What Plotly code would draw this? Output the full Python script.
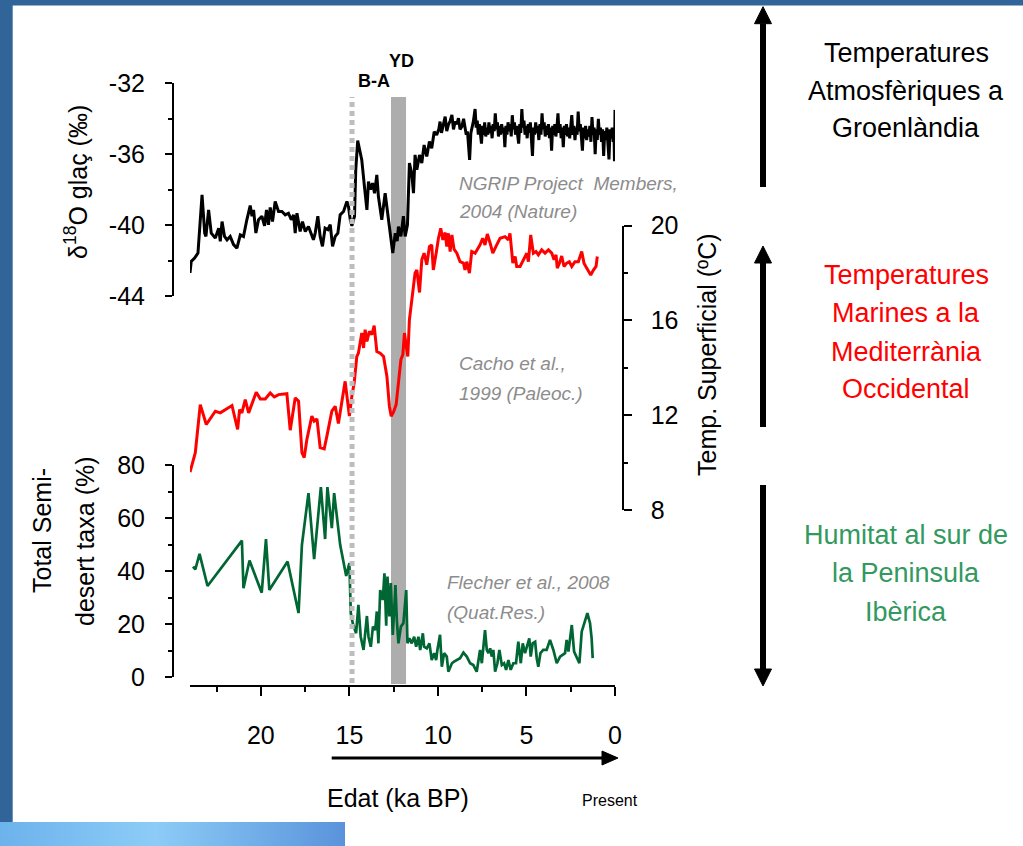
import base64
import plotly.graph_objects as go

# ---------------- data ----------------
# NGRIP d18O (permil) vs age (ka BP)
ngrip_age = [24.00, 23.93, 23.74, 23.55, 23.32, 23.17, 23.10, 22.95, 22.80, 22.57, 22.38, 22.29, 22.19, 22.05,
             21.91, 21.73, 21.54, 21.35, 21.16, 20.98, 20.79, 20.60, 20.50, 20.41, 20.28, 20.13, 19.94, 19.79,
             19.68, 19.57, 19.47, 19.34, 19.19, 19.00, 18.81, 18.62, 18.44, 18.28, 18.15, 18.06, 17.96, 17.78,
             17.65, 17.49, 17.31, 17.16, 17.03, 16.93, 16.78, 16.65, 16.52, 16.37, 16.21, 16.08, 15.95, 15.80,
             15.65, 15.52, 15.33, 15.14, 15.05, 14.95, 14.86, 14.71, 14.64, 14.53, 14.45, 14.30, 14.15, 14.01,
             13.92, 13.81, 13.69, 13.58, 13.45, 13.36, 13.17, 12.98, 12.79, 12.64, 12.55, 12.41, 12.30, 12.23,
             12.09, 11.95, 11.85, 11.72, 11.61, 11.48, 11.38, 11.29, 11.19, 11.04, 10.91, 10.78, 10.63, 10.48,
             10.35, 10.21, 10.07, 9.95, 9.88, 9.80, 9.72, 9.65, 9.59, 9.50, 9.41, 9.30, 9.21, 9.12, 9.03, 8.93,
             8.84, 8.75, 8.65, 8.55, 8.46, 8.40, 8.33, 8.21, 8.14, 8.00,
             7.90, 7.84, 7.78, 7.72, 7.66, 7.60, 7.54, 7.48, 7.42, 7.36, 7.30, 7.24, 7.18, 7.12, 7.06, 7.00,
             6.94, 6.88, 6.82, 6.76, 6.70, 6.64, 6.58, 6.52, 6.46, 6.40, 6.34, 6.28, 6.22, 6.16, 6.10, 6.04,
             5.98, 5.92, 5.86, 5.80, 5.74, 5.68, 5.62, 5.56, 5.50, 5.44, 5.38, 5.32, 5.26, 5.20, 5.14, 5.08,
             5.02, 4.96, 4.90, 4.84, 4.78, 4.72, 4.66, 4.60, 4.54, 4.48, 4.42, 4.36, 4.30, 4.24, 4.18, 4.12,
             4.06, 4.00, 3.94, 3.88, 3.82, 3.76, 3.70, 3.64, 3.58, 3.52, 3.46, 3.40, 3.34, 3.28, 3.22, 3.16,
             3.10, 3.04, 2.98, 2.92, 2.86, 2.80, 2.74, 2.68, 2.62, 2.56, 2.50, 2.44, 2.38, 2.32, 2.26, 2.20,
             2.14, 2.08, 2.02, 1.96, 1.90, 1.84, 1.78, 1.72, 1.66, 1.60, 1.54, 1.48, 1.42, 1.36, 1.30, 1.24,
             1.18, 1.12, 1.06, 1.00, 0.94, 0.88, 0.82, 0.76, 0.70, 0.64, 0.58, 0.52, 0.46, 0.40, 0.34, 0.28,
             0.22, 0.16, 0.10, 0.06, 0.03, 0.00]
ngrip_d18o = [-42.70, -42.05, -41.86, -41.58, -38.30, -40.45, -40.64, -39.14, -40.45, -40.73, -40.17, -40.92,
              -39.80, -40.64, -40.83, -40.64, -41.10, -41.30, -40.55, -40.64, -39.70, -38.90, -39.50, -39.14,
              -40.45, -39.70, -39.50, -40.04, -39.14, -39.98, -39.00, -39.80, -38.67, -39.23, -39.23, -39.42,
              -39.33, -39.70, -39.42, -40.45, -39.33, -40.36, -39.80, -40.36, -40.08, -40.45, -40.83, -40.45,
              -39.50, -40.64, -41.20, -40.17, -40.26, -39.98, -41.20, -40.64, -40.45, -39.42, -39.23, -38.67,
              -38.95, -39.70, -40.04, -39.50, -36.88, -35.23, -35.57, -36.32, -37.82, -39.14, -37.54, -38.00,
              -37.63, -38.20, -37.17, -38.39, -39.70, -38.20, -39.70, -41.01, -41.58, -40.45, -40.90, -40.08,
              -40.64, -39.50, -40.64, -39.98, -36.50, -37.07, -38.20, -36.04, -36.88, -36.04, -36.50, -35.48,
              -36.13, -35.29, -35.66, -34.73, -34.91, -34.60, -34.16, -34.80, -34.44, -34.20, -33.88, -34.70,
              -34.35, -34.10, -33.79, -34.60, -34.16, -34.30, -33.97, -34.60, -34.44, -34.00, -34.44, -34.90,
              -34.73, -36.32, -34.82, -34.16,
              -33.45, -34.50, -34.10, -34.90, -34.30, -34.80, -35.40, -34.40, -34.90, -34.20, -35.00, -34.50,
              -34.90, -34.20, -34.80, -34.40, -35.10, -34.30, -34.70, -33.70, -34.60, -34.20, -35.00, -34.40,
              -34.90, -34.30, -34.80, -34.50, -35.60, -34.40, -34.90, -34.20, -34.70, -34.30, -35.00, -33.80,
              -34.60, -34.20, -34.90, -34.40, -35.00, -35.40, -34.30, -34.80, -33.45, -34.50, -34.10, -34.90,
              -34.40, -35.10, -34.30, -34.80, -34.20, -35.00, -36.10, -34.50, -34.90, -34.20, -34.80, -34.40,
              -35.20, -34.30, -34.90, -33.70, -34.60, -34.20, -35.00, -34.40, -34.90, -34.30, -35.10, -34.50,
              -35.80, -34.40, -34.90, -34.30, -35.00, -34.50, -33.70, -34.80, -34.30, -35.10, -34.50, -35.60,
              -34.40, -34.90, -34.30, -35.00, -34.50, -35.10, -34.40, -33.80, -34.90, -34.40, -35.20, -34.50,
              -34.90, -33.60, -34.70, -34.30, -35.00, -35.80, -34.50, -35.10, -34.40, -35.20, -34.60, -35.00,
              -34.40, -35.30, -33.90, -34.90, -34.50, -36.00, -34.60, -35.20, -34.00, -34.90, -34.50, -35.30,
              -34.60, -36.10, -34.70, -35.20, -34.50, -35.40, -36.30, -34.60, -35.10, -34.50, -35.30, -34.60,
              -36.40, -33.50]

# Cacho et al. 1999 SST (degC)
sst_age = [24.00, 23.70, 23.42, 23.08, 22.57, 22.29, 21.63, 21.31, 21.20, 21.07, 20.88, 20.69, 20.26, 20.03,
           19.75, 19.47, 19.24, 19.00, 18.53, 18.34, 18.06, 17.87, 17.68, 17.55, 17.40, 17.12, 16.99, 16.83,
           16.65, 16.42, 16.27, 15.99, 15.80, 15.62, 15.24, 15.00, 14.86, 14.73, 14.58, 14.49, 14.30, 14.20,
           14.11, 14.01, 13.87, 13.73, 13.60, 13.45, 13.26, 13.07, 12.88, 12.74, 12.64, 12.51, 12.36, 12.23,
           12.09, 11.98, 11.89, 11.79, 11.70, 11.61, 11.48, 11.29, 11.19, 11.04, 10.91, 10.78, 10.63, 10.48,
           10.35, 10.26, 10.10, 9.97, 9.84, 9.72, 9.59, 9.50, 9.41, 9.31, 9.21, 9.09, 8.93, 8.75, 8.56, 8.47,
           8.37, 8.22, 8.09, 7.90, 7.62, 7.47, 7.34, 7.21, 7.05, 6.90, 6.68, 6.49, 6.21, 6.02, 5.93, 5.77,
           5.64, 5.55, 5.36, 5.17, 4.98, 4.89, 4.76, 4.61, 4.46, 4.33, 4.14, 3.95, 3.76, 3.57, 3.44, 3.33,
           3.26, 3.14, 3.01, 2.88, 2.73, 2.58, 2.44, 2.26, 2.07, 1.88, 1.75, 1.60, 1.37, 1.22, 1.07, 1.00]
sst_temp = [9.60, 10.42, 12.45, 11.61, 12.17, 12.10, 12.41, 11.40, 12.24, 12.10, 12.66, 12.10, 12.97, 12.69,
            12.69, 12.94, 12.77, 12.87, 12.91, 11.37, 12.73, 12.59, 10.42, 10.21, 10.98, 11.96, 11.75, 11.85,
            10.63, 10.58, 11.12, 12.17, 12.38, 11.65, 13.43, 11.96, 12.80, 13.36, 14.48, 14.62, 15.47, 14.84,
            15.61, 15.12, 15.54, 15.40, 15.78, 14.69, 14.62, 14.48, 13.64, 12.38, 11.96, 12.13, 12.45, 13.50,
            14.35, 14.56, 15.47, 14.91, 14.48, 16.03, 16.87, 18.00, 18.13, 17.18, 18.56, 18.84, 18.35, 19.12,
            19.19, 18.13, 18.84, 19.47, 19.89, 19.40, 19.71, 19.12, 19.68, 18.91, 19.61, 19.01, 18.84, 18.48,
            18.42, 18.13, 18.48, 18.00, 18.91, 18.84, 19.19, 19.47, 19.19, 19.65, 19.26, 18.84, 19.19, 19.47,
            19.54, 19.40, 19.68, 18.42, 18.70, 18.28, 18.28, 18.56, 18.84, 18.48, 19.61, 18.84, 18.91, 18.77,
            18.98, 18.84, 18.98, 18.84, 18.56, 18.77, 18.21, 18.42, 18.72, 18.28, 18.42, 18.48, 18.28, 18.48,
            18.48, 18.91, 18.42, 18.21, 17.92, 18.13, 18.28, 18.70]

# Fletcher et al. 2008 semi-desert taxa (%)
taxa_age = [23.83, 23.70, 23.46, 23.01, 21.07, 20.98, 20.64, 19.95, 19.71, 19.52, 18.49, 17.87, 17.68, 17.31,
            16.99, 16.61, 16.37, 16.24, 15.99, 15.86, 15.52, 15.18, 15.00, 14.92, 14.81, 14.62, 14.49, 14.36,
            14.20, 14.01, 13.92, 13.79, 13.67, 13.54, 13.45, 13.36, 13.26, 13.11, 13.02, 12.92, 12.85, 12.74,
            12.66, 12.55, 12.45, 12.40, 12.32, 12.23, 12.09, 11.95, 11.79, 11.72, 11.61, 11.48, 11.34, 11.23,
            11.10, 11.00, 10.85, 10.78, 10.63, 10.48, 10.35, 10.21, 10.10, 10.03, 9.88, 9.78, 9.65, 9.50,
            9.41, 9.21, 9.09, 8.93, 8.75, 8.56, 8.37, 8.18, 8.00, 7.81, 7.62, 7.52, 7.34, 7.24, 7.15, 7.05,
            6.96, 6.87, 6.77, 6.64, 6.53, 6.39, 6.26, 6.15, 6.02, 5.89, 5.74, 5.59, 5.46, 5.32, 5.21, 5.08,
            4.98, 4.84, 4.76, 4.65, 4.51, 4.42, 4.33, 4.21, 4.05, 3.86, 3.67, 3.48, 3.29, 3.10, 2.82, 2.73,
            2.63, 2.44, 2.31, 2.16, 2.01, 1.88, 1.69, 1.56, 1.41, 1.32, 1.26]
taxa_pct = [41.7, 40.7, 46.5, 34.4, 51.5, 33.6, 44.0, 31.9, 52.1, 32.9, 43.6, 24.2, 49.9, 69.4, 44.5, 71.7,
            52.1, 71.7, 56.2, 69.4, 49.9, 38.2, 43.0, 24.2, 20.4, 16.6, 27.3, 15.3, 10.3, 23.1, 15.3, 11.5,
            19.1, 17.8, 24.8, 12.8, 32.9, 29.2, 39.2, 19.4, 38.0, 22.9, 35.5, 16.0, 27.9, 34.8, 21.6, 12.8,
            19.1, 20.4, 32.9, 12.8, 14.7, 12.8, 15.3, 11.5, 15.3, 10.3, 16.6, 11.5, 10.9, 12.8, 6.5, 9.1, 6.5,
            10.3, 16.0, 4.0, 9.1, 7.8, 2.1, 5.3, 5.9, 6.5, 7.2, 9.3, 7.8, 5.3, 4.6, 2.1, 10.3, 5.3, 17.8, 10.3,
            9.1, 10.9, 7.8, 10.3, 2.1, 5.3, 10.3, 4.6, 5.3, 2.8, 6.5, 2.8, 5.3, 5.3, 13.4, 5.3, 12.8, 9.1, 11.5,
            14.7, 7.8, 12.8, 13.4, 7.2, 4.0, 9.1, 10.3, 10.3, 14.1, 10.3, 5.3, 7.8, 9.1, 14.1, 9.7, 19.7, 9.7,
            7.2, 5.3, 17.2, 21.0, 24.2, 20.4, 14.7, 7.2]

# event markers (ka BP)
ba_onset = 14.85
yd_start, yd_end = 12.65, 11.8

age_ticks = [0, 5, 10, 15, 20]
age_minor = [2.5, 7.5, 12.5, 17.5, 22.5]
d18o_ticks = [-44, -40, -36, -32]
d18o_ticktext = ["-44", "-40", "-36", "-32"]
d18o_minor = [-42, -38, -34]
sst_ticks = [8, 12, 16, 20]
sst_minor = [10, 14, 18]
taxa_ticks = [0, 20, 40, 60, 80]
taxa_minor = [10, 30, 50, 70]

# ---------------- layout helpers ----------------
W, H = 1023, 846
FONT = "Liberation Sans, Arial, sans-serif"


def fx(px):
    return px / W


def fy(py):
    return 1 - py / H


fig = go.Figure()
fig.add_trace(go.Scatter(x=ngrip_age, y=ngrip_d18o, mode="lines", xaxis="x", yaxis="y2",
                         line=dict(color="black", width=3), hoverinfo="skip"))
fig.add_trace(go.Scatter(x=sst_age, y=sst_temp, mode="lines", xaxis="x", yaxis="y3",
                         line=dict(color="#FF0000", width=3), hoverinfo="skip"))
fig.add_trace(go.Scatter(x=taxa_age, y=taxa_pct, mode="lines", xaxis="x", yaxis="y",
                         line=dict(color="#006633", width=2.7), hoverinfo="skip"))

axis_common = dict(showgrid=False, zeroline=False, showline=True, linecolor="black", linewidth=2,
                   ticks="outside", tickcolor="black", tickwidth=2,
                   tickfont=dict(family=FONT, size=25, color="black"), automargin=False)

fig.update_layout(
    width=W, height=H,
    margin=dict(l=0, r=0, t=0, b=0),
    paper_bgcolor="white", plot_bgcolor="rgba(0,0,0,0)",
    showlegend=False,
    xaxis=dict(domain=[fx(190), fx(615)], range=[24, 0], anchor="free", position=fy(686),
               tickvals=age_ticks, ticklen=9, ticklabelstandoff=18,
               minor=dict(tickvals=age_minor, ticklen=5, tickwidth=2, tickcolor="black", ticks="outside"),
               **axis_common),
    yaxis=dict(domain=[fy(677.3), fy(465)], range=[0, 80], anchor="free", position=fx(173), side="left",
               tickvals=taxa_ticks, ticklen=7, ticklabelstandoff=15,
               minor=dict(tickvals=taxa_minor, ticklen=4, tickwidth=2, tickcolor="black", ticks="outside"),
               **axis_common),
    yaxis2=dict(domain=[fy(296), fy(83.3)], range=[-44, -32], anchor="free", position=fx(173), side="left",
                tickvals=d18o_ticks, ticktext=d18o_ticktext, ticklen=7, ticklabelstandoff=15,
                minor=dict(tickvals=d18o_minor, ticklen=4, tickwidth=2, tickcolor="black", ticks="outside"),
                **axis_common),
    yaxis3=dict(domain=[fy(510), fy(225.7)], range=[8, 20], anchor="free", position=fx(622.7), side="right",
                tickvals=sst_ticks, ticklen=8, ticklabelstandoff=14,
                minor=dict(tickvals=sst_minor, ticklen=4, tickwidth=2, tickcolor="black", ticks="outside"),
                **axis_common),
)

shapes = []
# slide frame
BLUE = "#31659A"
shapes.append(dict(type="rect", xref="paper", yref="paper", x0=0, x1=1, y0=fy(5.5), y1=1,
                   fillcolor=BLUE, line=dict(width=0), layer="above"))
shapes.append(dict(type="rect", xref="paper", yref="paper", x0=0, x1=fx(12.7), y0=fy(822), y1=1,
                   fillcolor=BLUE, line=dict(width=0), layer="above"))
# Younger Dryas band and B-A onset line
shapes.append(dict(type="rect", xref="x", yref="paper", x0=yd_start, x1=yd_end, y0=fy(684), y1=fy(97),
                   fillcolor="#ADADAD", line=dict(width=0), layer="below"))
shapes.append(dict(type="line", xref="x", yref="paper", x0=ba_onset, x1=ba_onset, y0=fy(683), y1=fy(97),
                   line=dict(color="#BDBDBD", width=5, dash="5px,4px"), layer="above"))


def vline_arrow(x, y_tail, y_tip, head=17, half=8.5, width=6):
    sgn = 1 if y_tip > y_tail else -1
    base = y_tip - sgn * head
    shapes.append(dict(type="line", xref="paper", yref="paper", x0=fx(x), x1=fx(x), y0=fy(y_tail), y1=fy(base),
                       line=dict(color="black", width=width)))
    path = "M {} {} L {} {} L {} {} Z".format(fx(x), fy(y_tip), fx(x - half), fy(base), fx(x + half), fy(base))
    shapes.append(dict(type="path", xref="paper", yref="paper", path=path, fillcolor="black",
                       line=dict(color="black", width=1)))


vline_arrow(763, 187, 6.7)
vline_arrow(763, 427, 246)
vline_arrow(763, 485, 686)

# time arrow under the x axis
shapes.append(dict(type="line", xref="paper", yref="paper", x0=fx(331.7), x1=fx(604), y0=fy(758), y1=fy(758),
                   line=dict(color="black", width=3)))
shapes.append(dict(type="path", xref="paper", yref="paper",
                   path="M {} {} L {} {} L {} {} Z".format(fx(618), fy(758), fx(602), fy(751), fx(602), fy(765)),
                   fillcolor="black", line=dict(color="black", width=1)))
fig.update_layout(shapes=shapes)

# light-blue gradient strip bottom-left
svg = ("<svg xmlns='http://www.w3.org/2000/svg' width='345' height='24' preserveAspectRatio='none'>"
       "<defs><linearGradient id='g' x1='0' y1='0' x2='1' y2='0'>"
       "<stop offset='0' stop-color='rgb(108,178,236)'/>"
       "<stop offset='0.45' stop-color='rgb(140,204,247)'/>"
       "<stop offset='1' stop-color='rgb(90,147,219)'/>"
       "</linearGradient></defs><rect width='345' height='24' fill='url(#g)'/></svg>")
src = "data:image/svg+xml;base64," + base64.b64encode(svg.encode()).decode()
fig.add_layout_image(dict(source=src, xref="paper", yref="paper", x=0, y=fy(822), sizex=fx(345),
                          sizey=24 / H, xanchor="left", yanchor="top", sizing="stretch", layer="above"))

ann = []


def text(t, x, y, size, color="black", xanchor="center", angle=0, italic=False, bold=False):
    if bold:
        t = "<b>" + t + "</b>"
    if italic:
        t = "<i>" + t + "</i>"
    ann.append(dict(text=t, x=fx(x), y=fy(y), xref="paper", yref="paper", showarrow=False,
                    xanchor=xanchor, yanchor="middle", textangle=angle,
                    font=dict(family=FONT, size=size, color=color)))


# axis titles
text("δ<sup>18</sup>O glaç (‰)", 76, 182, 25, angle=-90)
text("Total Semi-", 42, 531, 25, angle=-90)
text("desert taxa (%)", 85, 541, 25, angle=-90)
text("Temp. Superficial (ºC)", 707, 355, 25, angle=-90)
text("Edat (ka BP)", 398, 798, 25)
text("Present", 610, 800, 16)
# event labels
text("B-A", 374, 81, 18, bold=True)
text("YD", 401.5, 61, 18, bold=True)
# citations
GRAY = "#8C8C8C"
text("NGRIP Project  Members,", 457, 183, 19, GRAY, "left", italic=True)
text("2004 (Nature)", 457, 212, 19, GRAY, "left", italic=True)
text("Cacho et al.,", 457, 363, 19, GRAY, "left", italic=True)
text("1999 (Paleoc.)", 457, 393, 19, GRAY, "left", italic=True)
text("Flecher et al., 2008", 445, 582, 19, GRAY, "left", italic=True)
text("(Quat.Res.)", 445, 612, 19, GRAY, "left", italic=True)
# right-hand captions
for t, y in [("Temperatures", 53), ("Atmosfèriques a", 91), ("Groenlàndia", 128)]:
    text(t, 906, y, 27)
for t, y in [("Temperatures", 275), ("Marines a la", 313), ("Mediterrània", 352), ("Occidental", 389)]:
    text(t, 906, y, 27, "#FF0000")
for t, y in [("Humitat al sur de", 535), ("la Peninsula", 573), ("Ibèrica", 612)]:
    text(t, 906, y, 27, "#33995F")
fig.update_layout(annotations=ann)

fig.write_html("out.html")
